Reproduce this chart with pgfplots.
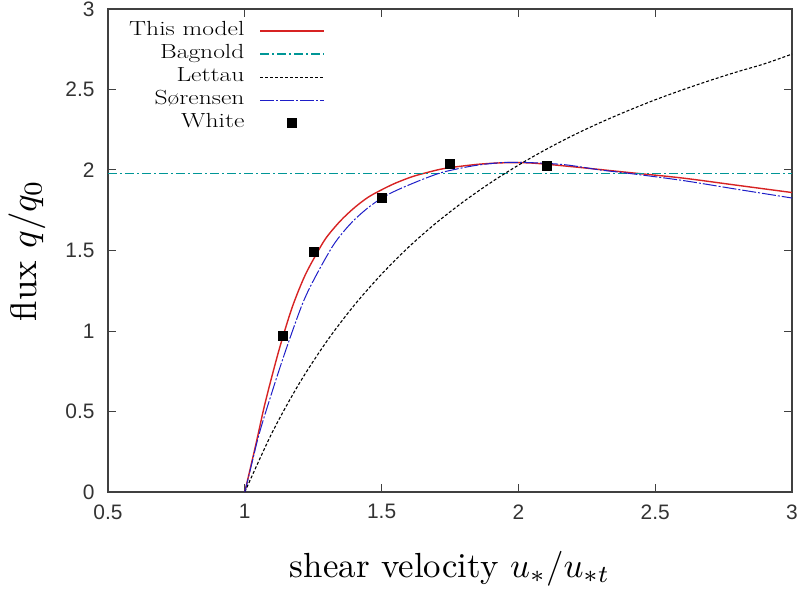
\documentclass[border=0pt]{standalone}
\usepackage{fontspec}
\usepackage{pgfplots}
\pgfplotsset{compat=1.18}
\newfontfamily\tickfont{Liberation Sans}
\newfontfamily\legfont[FakeStretch=1.25]{Latin Modern Roman}
\definecolor{modelred}{RGB}{215,35,35}
\definecolor{bagteal}{RGB}{0,150,150}
\definecolor{sorblue}{RGB}{30,30,200}
\pgfplotsset{
  lineleg/.style={legend image code/.code={\draw[##1] (0bp,0bp) -- (64bp,0bp);}},
  markleg/.style={legend image code/.code={\draw[##1] plot coordinates {(32bp,0bp)};}},
}
\begin{document}
\begin{tikzpicture}
\begin{axis}[
  scale only axis, width=684bp, height=483bp,
  xmin=0.5, xmax=3, ymin=0, ymax=3,
  xtick={0.5,1,1.5,2,2.5,3}, ytick={0,0.5,1,1.5,2,2.5,3},
  tick align=inside, major tick length=8bp,
  axis line style={line width=1.2bp, black!75},
  every tick/.style={black!75, line width=1bp},
  tick label style={font=\tickfont\fontsize{21}{21}\selectfont, text=black!80},
  xticklabel style={yshift=-9bp},
  yticklabel style={xshift=-10bp},
  /pgf/number format/assume math mode=true,
  xlabel={shear velocity $u_*/u_{*t}$},
  ylabel={flux $q/q_0$},
  xlabel style={font=\normalsize, at={(axis description cs:0.5,0)}, anchor=center, yshift=-77bp, scale=3.5},
  ylabel style={font=\normalsize, at={(axis description cs:0,0.5)}, anchor=center, yshift=81bp, scale=3.7},
  legend plot pos=right,
  legend cell align=right,
  legend style={at={(axis description cs:0.317,0.976)}, anchor=north east,
    draw=none, fill=none, inner sep=0pt, outer sep=0pt,
    font=\legfont\fontsize{20.5}{20.5}\selectfont,
    row sep=2bp,
    nodes={inner sep=2bp, text height=13bp, text depth=4bp},
    /tikz/every odd column/.append style={column sep=13bp}},
]
\addplot[draw=modelred, line width=1.4bp, smooth, lineleg] coordinates {
(1.00,0) (1.041,0.30) (1.071,0.53) (1.102,0.737) (1.132,0.923) (1.174,1.151)
(1.22,1.345) (1.269,1.50) (1.30,1.585) (1.35,1.685) (1.40,1.765) (1.45,1.83)
(1.50,1.877) (1.55,1.918) (1.611,1.958) (1.67,1.986) (1.732,2.01) (1.85,2.035)
(1.95,2.045) (2.05,2.043) (2.2,2.02) (2.4,1.985) (2.6,1.95) (2.8,1.905) (3.0,1.86)};
\addlegendentry{This model}
\addplot[draw=bagteal, line width=1.4bp, dash pattern=on 9bp off 3bp on 2bp off 3bp, lineleg] coordinates {
(0.5,1.98) (3.0,1.98)};
\addlegendentry{Bagnold}
\addplot[draw=black, line width=1.1bp, dash pattern=on 3bp off 2bp, smooth, lineleg] coordinates {
(1.0,0) (1.1,0.369) (1.2,0.677) (1.3,0.937) (1.4,1.160) (1.5,1.353)
(1.6,1.523) (1.7,1.672) (1.8,1.804) (1.9,1.923) (2.0,2.03) (2.1,2.127)
(2.2,2.215) (2.3,2.295) (2.4,2.368) (2.5,2.436) (2.6,2.498) (2.7,2.556)
(2.8,2.610) (2.9,2.660) (3.0,2.72)};
\addlegendentry{Lettau}
\addplot[draw=sorblue, line width=1bp, dash pattern=on 14bp off 2bp on 2bp off 2bp, smooth, lineleg] coordinates {
(1.00,0) (1.017,0.116) (1.053,0.364) (1.102,0.634) (1.15,0.882) (1.211,1.17)
(1.259,1.34) (1.32,1.524) (1.36,1.615) (1.40,1.69) (1.45,1.765) (1.50,1.825)
(1.55,1.87) (1.611,1.915) (1.67,1.955) (1.732,1.99) (1.85,2.03) (1.975,2.048)
(2.157,2.035) (2.3,2.0) (2.4,1.98) (2.6,1.935) (2.8,1.88) (3.0,1.826)};
\addlegendentry{S\o rensen}
\addplot[only marks, mark=square*, mark size=4.5bp, black, markleg] coordinates {
(1.14,0.97) (1.25,1.49) (1.5,1.83) (1.75,2.04) (2.105,2.025)};
\addlegendentry{White}
\end{axis}
\pgfresetboundingbox
\path[use as bounding box] (current axis.south west) ++(-108bp,-99bp) rectangle ([shift={(7bp,9bp)}]current axis.north east);
\end{tikzpicture}
\end{document}
